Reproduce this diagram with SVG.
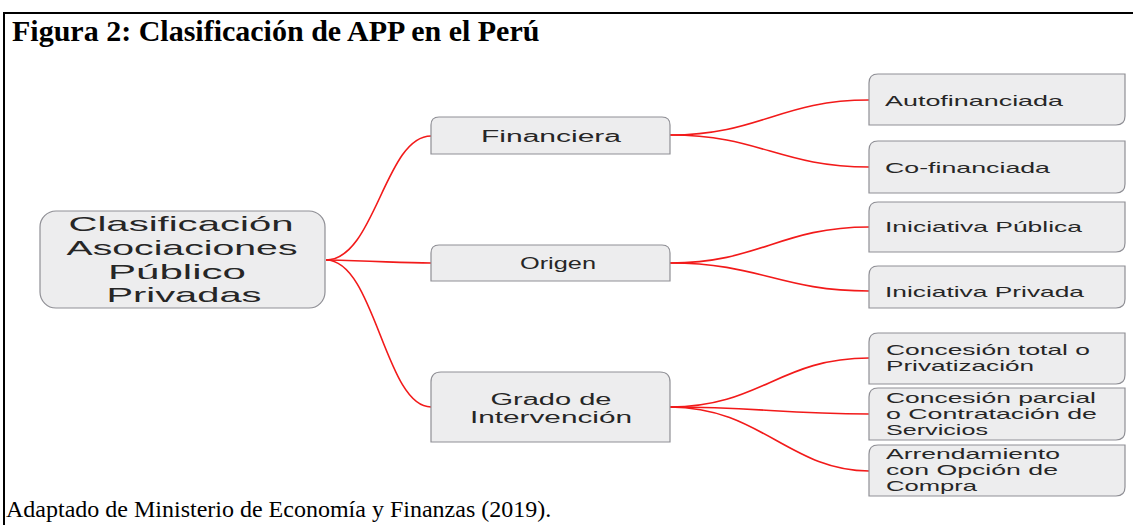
<svg xmlns="http://www.w3.org/2000/svg" width="1133" height="525" viewBox="0 0 1133 525">
<style>
.frame{stroke:#000;stroke-width:2;fill:none}
.title{font-family:"Liberation Serif","Times New Roman",serif;font-weight:bold;font-size:30px;fill:#000}
.foot{font-family:"Liberation Serif","Times New Roman",serif;font-size:24px;fill:#000}
.box{fill:#ededee;stroke:#8f8f95;stroke-width:1.2}
.t{font-family:"Liberation Sans",Arial,sans-serif;fill:#262626}
.root{font-size:21px;text-anchor:middle}
.mid{font-size:16px;text-anchor:middle}
.leaf{font-size:15px}
.conn path{fill:none;stroke:#f21a1a;stroke-width:1.6}
</style>
<rect width="1133" height="525" fill="#fff"/>
<path class="frame" d="M3,13 H1133 M4,12 V525"/>
<text class="title" x="12" y="41">Figura 2: Clasificación de APP en el Perú</text>
<text class="foot" x="6" y="517">Adaptado de Ministerio de Economía y Finanzas (2019).</text>

<g id="connectors" class="conn">
<path d="M326,260 C375,260 385,136 431,136"/>
<path d="M326,260 C380,261 400,263 431,263"/>
<path d="M326,260 C375,260 385,407 431,407"/>
<path d="M670,135 C760,135 780,100 869,100"/>
<path d="M670,135 C760,135 780,167 869,167"/>
<path d="M670,263 C760,263 780,227 869,227"/>
<path d="M670,263 C760,263 780,291 869,291"/>
<path d="M670,407 C760,407 780,358 869,358"/>
<path d="M670,407 C760,407 780,414 869,414"/>
<path d="M670,407 C760,407 790,471 869,471"/>
</g>

<g id="root">
<rect class="box" x="40" y="211" width="285" height="97" rx="16"/>
<text class="t root" x="181" y="231" textLength="225" lengthAdjust="spacingAndGlyphs">Clasificación</text>
<text class="t root" x="182" y="255" textLength="231" lengthAdjust="spacingAndGlyphs">Asociaciones</text>
<text class="t root" x="177" y="279" textLength="138" lengthAdjust="spacingAndGlyphs">Público</text>
<text class="t root" x="184" y="302" textLength="155" lengthAdjust="spacingAndGlyphs">Privadas</text>
</g>

<g id="financiera">
<path class="box" d="M431,154 V125 Q431,117 439,117 H662 Q670,117 670,125 V154 Z"/>
<text class="t mid" x="551" y="142" textLength="140" lengthAdjust="spacingAndGlyphs">Financiera</text>
</g>
<g id="origen">
<path class="box" d="M431,281 V253 Q431,245 439,245 H662 Q670,245 670,253 V281 Z"/>
<text class="t mid" x="558" y="269" textLength="76" lengthAdjust="spacingAndGlyphs">Origen</text>
</g>
<g id="grado">
<path class="box" d="M431,442 V382 Q431,372 441,372 H660 Q670,372 670,382 V442 Z"/>
<text class="t mid" x="551" y="405" textLength="121" lengthAdjust="spacingAndGlyphs">Grado de</text>
<text class="t mid" x="551" y="423" textLength="162" lengthAdjust="spacingAndGlyphs">Intervención</text>
</g>

<g id="autofinanciada">
<path class="box" d="M869,125 V83 Q869,74 878,74 H1125 V116 Q1125,125 1116,125 Z"/>
<text class="t leaf" x="885" y="106" textLength="178" lengthAdjust="spacingAndGlyphs">Autofinanciada</text>
</g>
<g id="cofinanciada">
<path class="box" d="M869,193 V150 Q869,141 878,141 H1125 V184 Q1125,193 1116,193 Z"/>
<text class="t leaf" x="885" y="173" textLength="165" lengthAdjust="spacingAndGlyphs">Co-financiada</text>
</g>
<g id="publica">
<path class="box" d="M869,252 V211 Q869,202 878,202 H1125 V243 Q1125,252 1116,252 Z"/>
<text class="t leaf" x="885" y="232" textLength="197" lengthAdjust="spacingAndGlyphs">Iniciativa Pública</text>
</g>
<g id="privada">
<path class="box" d="M869,308 V275 Q869,266 878,266 H1125 V299 Q1125,308 1116,308 Z"/>
<text class="t leaf" x="885" y="297" textLength="199" lengthAdjust="spacingAndGlyphs">Iniciativa Privada</text>
</g>
<g id="total">
<path class="box" d="M869,384 V342 Q869,333 878,333 H1125 V375 Q1125,384 1116,384 Z"/>
<text class="t leaf" x="886" y="355" textLength="204" lengthAdjust="spacingAndGlyphs">Concesión total o</text>
<text class="t leaf" x="886" y="371" textLength="148" lengthAdjust="spacingAndGlyphs">Privatización</text>
</g>
<g id="parcial">
<path class="box" d="M869,440 V397 Q869,388 878,388 H1125 V431 Q1125,440 1116,440 Z"/>
<text class="t leaf" x="886" y="403" textLength="210" lengthAdjust="spacingAndGlyphs">Concesión parcial</text>
<text class="t leaf" x="886" y="419" textLength="211" lengthAdjust="spacingAndGlyphs">o Contratación de</text>
<text class="t leaf" x="886" y="435" textLength="102" lengthAdjust="spacingAndGlyphs">Servicios</text>
</g>
<g id="arrendamiento">
<path class="box" d="M869,496 V454 Q869,445 878,445 H1125 V487 Q1125,496 1116,496 Z"/>
<text class="t leaf" x="886" y="459" textLength="174" lengthAdjust="spacingAndGlyphs">Arrendamiento</text>
<text class="t leaf" x="886" y="475" textLength="172" lengthAdjust="spacingAndGlyphs">con Opción de</text>
<text class="t leaf" x="886" y="491" textLength="91" lengthAdjust="spacingAndGlyphs">Compra</text>
</g>
</svg>
